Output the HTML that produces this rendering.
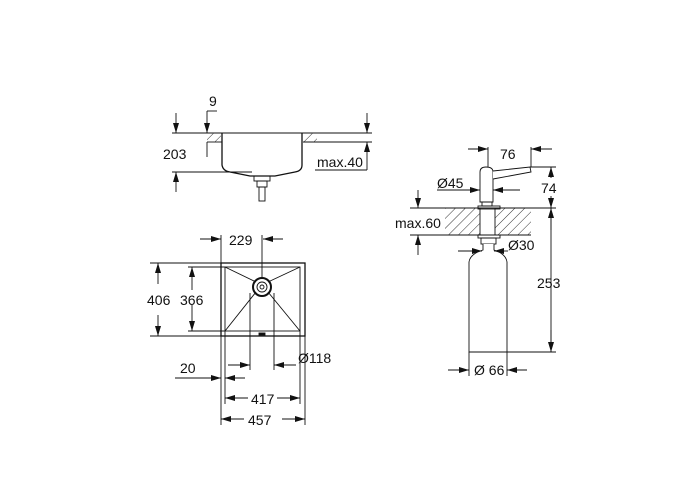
<!DOCTYPE html>
<html><head><style>body{margin:0;background:#fff}svg{display:block}text{font-family:"Liberation Sans",sans-serif;font-size:14px;fill:#111}</style></head><body>
<svg width="700" height="500" viewBox="0 0 700 500" xmlns="http://www.w3.org/2000/svg">
<defs>
<marker id="a" markerWidth="10" markerHeight="6" refX="10" refY="3" orient="auto" markerUnits="userSpaceOnUse"><path d="M0,0 L10,3 L0,6z" fill="#111"/></marker>
<pattern id="h" width="7" height="7" patternUnits="userSpaceOnUse" patternTransform="rotate(45)"><line x1="0" y1="0" x2="0" y2="7" stroke="#333" stroke-width="1"/></pattern>
</defs>
<g stroke="#111" stroke-width="0.9" fill="none">
<line x1="172" y1="133" x2="372" y2="133"/>
<line x1="207" y1="142" x2="222" y2="142"/>
<line x1="303" y1="142" x2="372" y2="142"/>
<rect x="207" y="133" width="14" height="9" fill="url(#h)" stroke="none"/>
<rect x="304" y="133" width="13" height="9" fill="url(#h)" stroke="none"/>
<path d="M222,133 L222,165 Q223,171 230,172 L250,176 L275,176 L295,172 Q302,171 302,165 L302,133" stroke-width="1.3"/>
<rect x="254" y="176" width="16" height="5"/>
<rect x="257" y="181" width="10" height="6"/>
<rect x="259" y="187" width="6" height="14"/>
<line x1="172" y1="172" x2="252" y2="172"/>
<line x1="176" y1="113" x2="176" y2="133" marker-end="url(#a)"/>
<line x1="176" y1="192" x2="176" y2="172" marker-end="url(#a)"/>
<line x1="217" y1="111" x2="207" y2="111"/><line x1="207" y1="111" x2="207" y2="133" marker-end="url(#a)"/>
<line x1="207" y1="142" x2="207" y2="157"/>
<line x1="315" y1="170" x2="367" y2="170"/>
<line x1="367" y1="113" x2="367" y2="133" marker-end="url(#a)"/>
<line x1="367" y1="170" x2="367" y2="142" marker-end="url(#a)"/>
<rect x="221" y="263" width="84" height="73" stroke-width="1.3"/>
<rect x="225" y="267" width="75" height="64"/>
<line x1="225" y1="267" x2="256" y2="282"/><line x1="300" y1="267" x2="268" y2="282"/>
<line x1="225" y1="331" x2="256" y2="292"/><line x1="300" y1="331" x2="268" y2="292"/>
<circle cx="262" cy="287" r="9" stroke-width="2"/><circle cx="262" cy="287" r="5"/><circle cx="262" cy="287" r="2"/>
<rect x="259" y="333" width="6" height="2" fill="#111"/>
<line x1="200" y1="239" x2="221" y2="239" marker-end="url(#a)"/>
<line x1="283" y1="239" x2="263" y2="239" marker-end="url(#a)"/>
<line x1="221" y1="235" x2="221" y2="263"/><line x1="262" y1="235" x2="262" y2="278"/>
<line x1="150" y1="263" x2="221" y2="263"/><line x1="150" y1="336" x2="221" y2="336"/>
<line x1="188" y1="267" x2="225" y2="267"/><line x1="188" y1="331" x2="225" y2="331"/>
<line x1="158" y1="284" x2="158" y2="263" marker-end="url(#a)"/><line x1="158" y1="315" x2="158" y2="336" marker-end="url(#a)"/>
<line x1="192" y1="290" x2="192" y2="267" marker-end="url(#a)"/><line x1="192" y1="305" x2="192" y2="331" marker-end="url(#a)"/>
<line x1="250" y1="293" x2="250" y2="370"/><line x1="274" y1="293" x2="274" y2="370"/>
<line x1="228" y1="365" x2="250" y2="365" marker-end="url(#a)"/>
<line x1="296" y1="365" x2="274" y2="365" marker-end="url(#a)"/>
<line x1="175" y1="378" x2="221" y2="378" marker-end="url(#a)"/>
<line x1="245" y1="378" x2="225" y2="378" marker-end="url(#a)"/>
<line x1="221" y1="336" x2="221" y2="425"/><line x1="305" y1="336" x2="305" y2="425"/>
<line x1="225" y1="331" x2="225" y2="404"/><line x1="300" y1="331" x2="300" y2="404"/>
<line x1="248" y1="398" x2="225" y2="398" marker-end="url(#a)"/><line x1="277" y1="398" x2="300" y2="398" marker-end="url(#a)"/>
<line x1="244" y1="419" x2="221" y2="419" marker-end="url(#a)"/><line x1="282" y1="419" x2="305" y2="419" marker-end="url(#a)"/>
<rect x="445" y="208" width="86" height="27" fill="url(#h)" stroke="none"/>
<line x1="410" y1="208" x2="556" y2="208"/><line x1="410" y1="235" x2="531" y2="235"/>
<rect x="480" y="208" width="15" height="27" fill="#fff"/>
<path d="M480,202 L480,172 Q480,167 486,167 Q493,167 493,172 L493,202 Z" fill="#fff"/>
<path d="M493,171 L530,167 L531,172 L493,179" fill="#fff"/>
<rect x="482" y="202" width="10" height="4"/>
<rect x="478" y="206" width="22" height="3"/>
<rect x="478" y="235" width="22" height="3"/>
<rect x="481" y="238" width="15" height="6"/>
<path d="M483,244 L483,250 Q470,254 469,262 L469,352 L507,352 L507,262 Q506,254 494,250 L494,244" fill="#fff"/>
<line x1="488" y1="147" x2="488" y2="167"/><line x1="531" y1="147" x2="531" y2="167"/>
<line x1="468" y1="149" x2="488" y2="149" marker-end="url(#a)"/>
<line x1="552" y1="149" x2="531" y2="149" marker-end="url(#a)"/>
<line x1="530" y1="167" x2="556" y2="167"/>
<line x1="507" y1="352" x2="556" y2="352"/>
<line x1="551" y1="196" x2="551" y2="208" marker-end="url(#a)"/>
<line x1="551" y1="208" x2="551" y2="352"/>
<line x1="551" y1="178" x2="551" y2="167" marker-end="url(#a)"/>
<line x1="551" y1="330" x2="551" y2="352" marker-end="url(#a)"/>
<line x1="551" y1="230" x2="551" y2="208" marker-end="url(#a)"/>
<line x1="437" y1="190" x2="480" y2="190" marker-end="url(#a)"/>
<line x1="520" y1="190" x2="493" y2="190" marker-end="url(#a)"/>
<line x1="418" y1="190" x2="418" y2="208" marker-end="url(#a)"/>
<line x1="418" y1="255" x2="418" y2="235" marker-end="url(#a)"/>
<line x1="458" y1="251" x2="482" y2="251" marker-end="url(#a)"/>
<line x1="508" y1="251" x2="494" y2="251" marker-end="url(#a)"/>
<line x1="469" y1="352" x2="469" y2="376"/><line x1="507" y1="352" x2="507" y2="376"/>
<line x1="448" y1="370" x2="469" y2="370" marker-end="url(#a)"/>
<line x1="527" y1="370" x2="507" y2="370" marker-end="url(#a)"/>
</g>
<text x="209" y="106">9</text>
<text x="163" y="159">203</text>
<text x="317" y="167">max.40</text>
<text x="229" y="245">229</text>
<text x="147" y="305">406</text>
<text x="180" y="305">366</text>
<text x="298" y="363">Ø118</text>
<text x="180" y="373">20</text>
<text x="251" y="404">417</text>
<text x="248" y="425">457</text>
<text x="500" y="159">76</text>
<text x="541" y="193">74</text>
<text x="437" y="188">Ø45</text>
<text x="395" y="228">max.60</text>
<text x="508" y="250">Ø30</text>
<text x="537" y="288">253</text>
<text x="474" y="375">Ø 66</text>
</svg>
</body></html>
